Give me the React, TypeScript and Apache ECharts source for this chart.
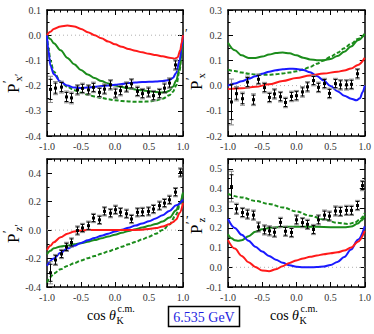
import React, { useEffect, useRef } from "react";
import * as echarts from "echarts";

type P = [number, number];

// ---------- data point bins ----------
const binsTop = [-0.96, -0.88, -0.8, -0.72, -0.64, -0.56, -0.48, -0.4, -0.32, -0.24, -0.16, -0.08, 0, 0.08, 0.16, 0.24, 0.32, 0.4, 0.48, 0.56, 0.64, 0.72, 0.8, 0.88];
const binsBottom = [-0.96, -0.88, -0.8, -0.72, -0.64, -0.56, -0.48, -0.4, -0.32, -0.24, -0.16, -0.08, 0, 0.08, 0.16, 0.24, 0.32, 0.4, 0.48, 0.56, 0.64, 0.72, 0.8, 0.88, 0.96];

// ---------- P'x' (top-left) ----------
const pxpData = [-0.215, -0.21, -0.206, -0.245, -0.249, -0.217, -0.211, -0.217, -0.207, -0.227, -0.214, -0.197, -0.23, -0.22, -0.206, -0.193, -0.223, -0.232, -0.226, -0.24, -0.232, -0.21, -0.19, -0.118];
const pxpErr = [0.04, 0.02, 0.018, 0.018, 0.018, 0.016, 0.016, 0.016, 0.016, 0.016, 0.016, 0.016, 0.016, 0.016, 0.016, 0.016, 0.016, 0.016, 0.016, 0.016, 0.016, 0.016, 0.016, 0.016];
const pxpRed: P[] = [[-1, 0], [-0.95, 0.014], [-0.9, 0.025], [-0.8, 0.035], [-0.7, 0.038], [-0.6, 0.035], [-0.5, 0.025], [-0.4, 0.012], [-0.3, 0], [-0.2, -0.012], [-0.1, -0.025], [0, -0.036], [0.1, -0.046], [0.2, -0.055], [0.3, -0.062], [0.4, -0.068], [0.5, -0.074], [0.6, -0.079], [0.7, -0.084], [0.8, -0.089], [0.88, -0.093], [0.92, -0.088], [0.96, -0.06], [0.98, -0.03], [1, 0]];
const pxpBlue: P[] = [[-1, 0], [-0.98, -0.06], [-0.95, -0.12], [-0.9, -0.155], [-0.8, -0.185], [-0.7, -0.2], [-0.6, -0.208], [-0.5, -0.21], [-0.4, -0.208], [-0.3, -0.205], [-0.2, -0.202], [-0.1, -0.2], [0, -0.197], [0.1, -0.194], [0.2, -0.19], [0.3, -0.188], [0.4, -0.186], [0.5, -0.185], [0.6, -0.184], [0.7, -0.182], [0.8, -0.178], [0.85, -0.17], [0.9, -0.15], [0.95, -0.1], [0.98, -0.05], [1, 0]];
const pxpGreen: P[] = [[-1, 0], [-0.95, -0.015], [-0.9, -0.032], [-0.8, -0.06], [-0.7, -0.09], [-0.6, -0.115], [-0.5, -0.138], [-0.4, -0.156], [-0.3, -0.17], [-0.2, -0.182], [-0.1, -0.192], [0, -0.2], [0.1, -0.206], [0.2, -0.211], [0.3, -0.215], [0.4, -0.219], [0.5, -0.222], [0.6, -0.225], [0.7, -0.227], [0.75, -0.226], [0.8, -0.22], [0.85, -0.205], [0.9, -0.18], [0.95, -0.13], [0.98, -0.07], [1, 0]];
const pxpGreenDash: P[] = [[-1, 0], [-0.98, -0.05], [-0.95, -0.1], [-0.9, -0.145], [-0.8, -0.185], [-0.7, -0.205], [-0.6, -0.218], [-0.5, -0.228], [-0.4, -0.236], [-0.3, -0.243], [-0.2, -0.249], [-0.1, -0.254], [0, -0.258], [0.1, -0.261], [0.2, -0.263], [0.3, -0.264], [0.4, -0.264], [0.5, -0.263], [0.6, -0.259], [0.7, -0.252], [0.8, -0.238], [0.85, -0.225], [0.9, -0.2], [0.95, -0.14], [0.98, -0.07], [1, 0]];

// ---------- P'x (top-right) ----------
const pxData = [-0.065, -0.032, -0.052, 0.014, -0.056, 0.025, -0.008, -0.047, -0.033, -0.044, -0.067, -0.043, -0.04, -0.025, -0.005, 0.02, -0.007, 0.008, -0.031, 0.008, 0.003, 0.003, 0.005, 0.047];
const pxErr = [0.07, 0.022, 0.02, 0.018, 0.018, 0.016, 0.016, 0.016, 0.016, 0.016, 0.016, 0.016, 0.016, 0.016, 0.016, 0.016, 0.016, 0.016, 0.016, 0.016, 0.016, 0.016, 0.016, 0.016];
const pxRed: P[] = [[-1, -0.014], [-0.8, -0.011], [-0.6, -0.005], [-0.4, 0.005], [-0.2, 0.018], [0, 0.03], [0.2, 0.04], [0.4, 0.048], [0.6, 0.055], [0.7, 0.06], [0.8, 0.068], [0.9, 0.082], [1, 0.11]];
const pxBlue: P[] = [[-1, 0], [-0.9, 0.008], [-0.8, 0.017], [-0.7, 0.027], [-0.6, 0.037], [-0.5, 0.047], [-0.4, 0.055], [-0.3, 0.061], [-0.2, 0.065], [-0.1, 0.067], [0, 0.066], [0.1, 0.062], [0.2, 0.053], [0.3, 0.038], [0.4, 0.02], [0.5, -0.002], [0.6, -0.022], [0.7, -0.04], [0.8, -0.052], [0.88, -0.058], [0.93, -0.05], [0.97, -0.025], [1, 0]];
const pxGreen: P[] = [[-1, 0.17], [-0.9, 0.14], [-0.8, 0.12], [-0.7, 0.11], [-0.6, 0.11], [-0.5, 0.115], [-0.4, 0.123], [-0.3, 0.129], [-0.2, 0.131], [-0.1, 0.128], [0, 0.12], [0.1, 0.111], [0.2, 0.104], [0.3, 0.101], [0.4, 0.101], [0.5, 0.106], [0.6, 0.117], [0.7, 0.134], [0.8, 0.155], [0.9, 0.18], [1, 0.205]];
const pxGreenDash: P[] = [[-1, 0.063], [-0.9, 0.058], [-0.8, 0.052], [-0.7, 0.047], [-0.6, 0.044], [-0.5, 0.043], [-0.4, 0.043], [-0.3, 0.045], [-0.2, 0.048], [-0.1, 0.052], [0, 0.057], [0.1, 0.064], [0.2, 0.074], [0.3, 0.087], [0.4, 0.1], [0.5, 0.114], [0.6, 0.13], [0.7, 0.148], [0.8, 0.166], [0.9, 0.185], [1, 0.205]];

// ---------- P'z' (bottom-left) ----------
const pzpData = [-0.3, -0.21, -0.168, -0.118, -0.087, -0.003, 0.015, 0.031, 0.085, 0.072, 0.132, 0.119, 0.143, 0.126, 0.115, 0.078, 0.125, 0.128, 0.132, 0.148, 0.172, 0.19, 0.213, 0.267, 0.405];
const pzpErr = [0.06, 0.03, 0.025, 0.025, 0.025, 0.025, 0.025, 0.025, 0.025, 0.025, 0.025, 0.025, 0.025, 0.025, 0.025, 0.025, 0.025, 0.025, 0.025, 0.025, 0.025, 0.025, 0.025, 0.025, 0.025];
const pzpRed: P[] = [[-1, -0.14], [-0.95, -0.11], [-0.9, -0.085], [-0.8, -0.05], [-0.7, -0.025], [-0.6, -0.01], [-0.5, -0.003], [-0.4, 0], [-0.2, 0], [0, 0], [0.2, 0], [0.4, 0.003], [0.5, 0.008], [0.6, 0.014], [0.7, 0.025], [0.8, 0.042], [0.85, 0.055], [0.9, 0.075], [0.95, 0.12], [1, 0.19]];
const pzpBlue: P[] = [[-1, -0.25], [-0.9, -0.2], [-0.8, -0.16], [-0.7, -0.13], [-0.6, -0.11], [-0.5, -0.09], [-0.4, -0.072], [-0.3, -0.055], [-0.2, -0.04], [-0.1, -0.025], [0, -0.01], [0.1, 0.003], [0.2, 0.017], [0.3, 0.032], [0.4, 0.047], [0.5, 0.063], [0.6, 0.082], [0.7, 0.105], [0.8, 0.135], [0.9, 0.175], [1, 0.215]];
const pzpGreen: P[] = [[-1, -0.17], [-0.95, -0.145], [-0.9, -0.128], [-0.8, -0.115], [-0.7, -0.108], [-0.6, -0.1], [-0.5, -0.092], [-0.4, -0.082], [-0.3, -0.07], [-0.2, -0.058], [-0.1, -0.045], [0, -0.032], [0.1, -0.019], [0.2, -0.006], [0.3, 0.006], [0.4, 0.018], [0.5, 0.03], [0.6, 0.043], [0.7, 0.06], [0.8, 0.088], [0.9, 0.14], [0.95, 0.19], [1, 0.265]];
const pzpGreenDash: P[] = [[-1, -0.37], [-0.95, -0.33], [-0.9, -0.305], [-0.8, -0.275], [-0.7, -0.252], [-0.6, -0.232], [-0.5, -0.214], [-0.4, -0.197], [-0.3, -0.182], [-0.2, -0.166], [-0.1, -0.15], [0, -0.134], [0.1, -0.117], [0.2, -0.1], [0.3, -0.083], [0.4, -0.065], [0.5, -0.046], [0.6, -0.025], [0.7, 0], [0.8, 0.04], [0.9, 0.11], [0.95, 0.17], [1, 0.26]];

// ---------- P'z (bottom-right) ----------
const pzData = [0.41, 0.297, 0.278, 0.27, 0.265, 0.205, 0.19, 0.185, 0.178, 0.228, 0.183, 0.177, 0.241, 0.227, 0.218, 0.192, 0.241, 0.265, 0.26, 0.286, 0.284, 0.289, 0.289, 0.314, 0.415];
const pzErr = [0.06, 0.022, 0.02, 0.02, 0.02, 0.02, 0.02, 0.02, 0.02, 0.02, 0.02, 0.02, 0.02, 0.02, 0.02, 0.02, 0.02, 0.02, 0.02, 0.02, 0.02, 0.02, 0.02, 0.02, 0.02];
const pzRed: P[] = [[-1, 0.138], [-0.9, 0.095], [-0.8, 0.058], [-0.7, 0.026], [-0.6, 0.002], [-0.5, -0.016], [-0.4, -0.02], [-0.3, -0.01], [-0.2, 0.006], [-0.1, 0.022], [0, 0.035], [0.1, 0.045], [0.2, 0.053], [0.3, 0.06], [0.4, 0.066], [0.5, 0.071], [0.6, 0.076], [0.7, 0.085], [0.8, 0.1], [0.9, 0.13], [1, 0.185]];
const pzBlue: P[] = [[-1, 0.245], [-0.9, 0.2], [-0.8, 0.165], [-0.7, 0.135], [-0.6, 0.105], [-0.5, 0.08], [-0.4, 0.058], [-0.3, 0.039], [-0.2, 0.023], [-0.1, 0.01], [0, 0.003], [0.1, 0], [0.2, 0], [0.3, 0.001], [0.4, 0.004], [0.5, 0.012], [0.6, 0.027], [0.7, 0.052], [0.8, 0.09], [0.9, 0.14], [1, 0.208]];
const pzGreen: P[] = [[-1, 0.168], [-0.95, 0.148], [-0.9, 0.138], [-0.85, 0.135], [-0.8, 0.138], [-0.7, 0.158], [-0.6, 0.18], [-0.5, 0.193], [-0.4, 0.2], [-0.3, 0.203], [-0.2, 0.205], [0, 0.206], [0.2, 0.206], [0.4, 0.205], [0.6, 0.203], [0.7, 0.203], [0.8, 0.207], [0.9, 0.222], [0.95, 0.238], [1, 0.262]];
const pzGreenDash: P[] = [[-1, 0.372], [-0.8, 0.355], [-0.6, 0.337], [-0.4, 0.322], [-0.2, 0.304], [0, 0.284], [0.2, 0.262], [0.4, 0.243], [0.6, 0.226], [0.75, 0.22], [0.85, 0.226], [0.92, 0.24], [1, 0.275]];

// ---------- axes ----------
const xTicks = { min: -1, max: 1, interval: 0.5 };
const yRanges = [
  { min: -0.4, max: 0.1, interval: 0.1, minor: 2, showMax: true },
  { min: -0.2, max: 0.3, interval: 0.1, minor: 2, showMax: true },
  { min: -0.4, max: 0.5, interval: 0.2, minor: 2, showMax: false },
  { min: -0.1, max: 0.55, interval: 0.1, minor: 2, showMax: false },
];

const FONT = "'Liberation Serif', 'Times New Roman', serif";
const RED = "#ff1a1a";
const BLUE = "#1a1aff";
const GREEN = "#1b8c1b";

const grids = [
  { left: 47, top: 10, width: 136, height: 126 },
  { left: 228, top: 10, width: 137, height: 126 },
  { left: 47, top: 159, width: 136, height: 128 },
  { left: 228, top: 159, width: 137, height: 128 },
];

const fmt = (v: number) => (Math.abs(v) < 1e-9 ? 0 : v).toFixed(1);

const axisLine = { show: true, onZero: false, lineStyle: { color: "#000", width: 1.5 } };
const axisTick = { show: true, inside: true, length: 5, lineStyle: { color: "#000", width: 1 } };

function buildAxes() {
  const xAxis: any[] = [];
  const yAxis: any[] = [];
  grids.forEach((_, i) => {
    const xc = {
      type: "value", gridIndex: i, ...xTicks, splitLine: { show: false }, axisLine, axisTick,
      minorTick: { show: true, splitNumber: 5, length: 2.5, lineStyle: { color: "#000", width: 1 } },
    };
    xAxis.push({ ...xc, position: "bottom", axisLabel: { show: true, margin: 5, fontFamily: FONT, fontSize: 10, color: "#333", formatter: fmt } });
    xAxis.push({ ...xc, position: "top", axisLabel: { show: false } });
    const r = yRanges[i];
    const yc = {
      type: "value", gridIndex: i, min: r.min, max: r.max, interval: r.interval, splitLine: { show: false }, axisLine, axisTick,
      minorTick: { show: true, splitNumber: r.minor, length: 2.5, lineStyle: { color: "#000", width: 1 } },
    };
    yAxis.push({ ...yc, position: "left", axisLabel: { show: true, margin: 6, fontFamily: FONT, fontSize: 10, color: "#333", formatter: fmt, showMaxLabel: r.showMax } });
    yAxis.push({ ...yc, position: "right", axisLabel: { show: false } });
  });
  return { xAxis, yAxis };
}

const errRender = (_params: any, api: any) => {
  const x = api.value(0) as number;
  const y = api.value(1) as number;
  const e = api.value(2) as number;
  const c = api.coord([x, y]);
  const t1 = api.coord([x, y + e]);
  const b1 = api.coord([x, y - e]);
  const t2 = api.coord([x, y + e * 1.3]);
  const b2 = api.coord([x, y - e * 1.3]);
  const gray = { stroke: "#8a8a8a", lineWidth: 1 };
  const blk = { stroke: "#000", lineWidth: 1 };
  const cx = Math.round(c[0]) + 0.5;
  return {
    type: "group",
    children: [
      { type: "line", shape: { x1: cx, y1: t2[1], x2: cx, y2: b2[1] }, style: gray },
      { type: "line", shape: { x1: cx - 2.5, y1: t2[1], x2: cx + 2.5, y2: t2[1] }, style: gray },
      { type: "line", shape: { x1: cx - 2.5, y1: b2[1], x2: cx + 2.5, y2: b2[1] }, style: gray },
      { type: "line", shape: { x1: cx, y1: t1[1], x2: cx, y2: b1[1] }, style: blk },
      { type: "line", shape: { x1: cx - 2, y1: t1[1], x2: cx + 2, y2: t1[1] }, style: blk },
      { type: "line", shape: { x1: cx - 2, y1: b1[1], x2: cx + 2, y2: b1[1] }, style: blk },
      { type: "rect", shape: { x: cx - 1.5, y: c[1] - 1.5, width: 3, height: 3 }, style: { fill: "#000" } },
    ],
  };
};

function panelSeries(i: number, red: P[], blue: P[], green: P[], dash: P[], bins: number[], vals: number[], errs: number[]) {
  const ax = { xAxisIndex: 2 * i, yAxisIndex: 2 * i };
  const line = (data: P[], color: string, type: any, z: number) => ({
    type: "line", ...ax, data, showSymbol: false, symbol: "none", smooth: 0.35, smoothMonotone: "x",
    lineStyle: { color, width: 2, type }, z, silent: true, clip: true,
  });
  return [
    { type: "line", ...ax, data: [[-1, 0], [1, 0]], showSymbol: false, symbol: "none", lineStyle: { color: "#b0b0b0", width: 1, type: [1, 3] }, z: 1, silent: true },
    line(dash, GREEN, [4, 2], 2),
    line(green, GREEN, "solid", 3),
    line(blue, BLUE, "solid", 4),
    line(red, RED, "solid", 5),
    {
      type: "custom", ...ax, renderItem: errRender, clip: true, z: 6,
      data: bins.map((b, k) => [b, vals[k], errs[k]]), encode: { x: 0, y: 1 },
    },
  ];
}

function yTitle(x: number, y: number, sub: string) {
  return {
    type: "group", x, y, rotation: Math.PI / 2,
    children: [
      { type: "text", x: 0, y: 0, style: { text: "P", font: `17px ${FONT}`, fill: "#000", align: "left", verticalAlign: "middle" } },
      { type: "text", x: 10, y: -6, style: { text: "′", font: `12px ${FONT}`, fill: "#000", align: "left", verticalAlign: "middle" } },
      { type: "text", x: 11.5, y: 5, style: { text: sub, font: `11px ${FONT}`, fill: "#000", align: "left", verticalAlign: "middle" } },
    ],
  };
}

function xTitle(x: number) {
  return {
    type: "group", x, y: 315,
    children: [
      { type: "text", x: 0, y: 0, style: { text: "cos", font: `14px ${FONT}`, fill: "#000", align: "left", verticalAlign: "middle" } },
      { type: "text", x: 22, y: 0, style: { text: "θ", font: `italic 14px ${FONT}`, fill: "#000", align: "left", verticalAlign: "middle" } },
      { type: "text", x: 29.5, y: 5, style: { text: "K", font: `10px ${FONT}`, fill: "#000", align: "left", verticalAlign: "middle" } },
      { type: "text", x: 30.5, y: -7, style: { text: "c.m.", font: `10px ${FONT}`, fill: "#000", align: "left", verticalAlign: "middle" } },
    ],
  };
}

export default function App() {
  const ref = useRef<HTMLDivElement>(null);
  useEffect(() => {
    if (!ref.current) return;
    const chart = echarts.init(ref.current, undefined, { renderer: "svg" });
    const { xAxis, yAxis } = buildAxes();
    const series = [
      ...panelSeries(0, pxpRed, pxpBlue, pxpGreen, pxpGreenDash, binsTop, pxpData, pxpErr),
      ...panelSeries(1, pxRed, pxBlue, pxGreen, pxGreenDash, binsTop, pxData, pxErr),
      ...panelSeries(2, pzpRed, pzpBlue, pzpGreen, pzpGreenDash, binsBottom, pzpData, pzpErr),
      ...panelSeries(3, pzRed, pzBlue, pzGreen, pzGreenDash, binsBottom, pzData, pzErr),
    ];
    chart.setOption({
      animation: false,
      backgroundColor: "#fff",
      textStyle: { fontFamily: FONT },
      grid: grids.map((g) => ({ ...g, containLabel: false })),
      xAxis,
      yAxis,
      series,
      graphic: [
        yTitle(13, 93, "x′"),
        yTitle(196, 90, "x"),
        yTitle(13, 243, "z′"),
        yTitle(196, 234, "z"),
        { type: "text", x: 185, y: 33, style: { text: "′", font: `12px ${FONT}`, fill: "#000", align: "left", verticalAlign: "middle" } },
        { type: "text", x: 186, y: 220, style: { text: "′", font: `12px ${FONT}`, fill: "#000", align: "left", verticalAlign: "middle" } },
        xTitle(87),
        xTitle(270),
        { type: "rect", shape: { x: 168.5, y: 306.5, width: 71, height: 20 }, style: { fill: "#fff", stroke: "#000", lineWidth: 1.5 } },
        { type: "text", x: 204, y: 317, style: { text: "6.535 GeV", font: `14px ${FONT}`, fill: "#1f1fe0", align: "center", verticalAlign: "middle" } },
      ],
    });
    return () => chart.dispose();
  }, []);
  return <div ref={ref} style={{ position: "absolute", left: 0, top: 0, width: 374, height: 334 }} />;
}
